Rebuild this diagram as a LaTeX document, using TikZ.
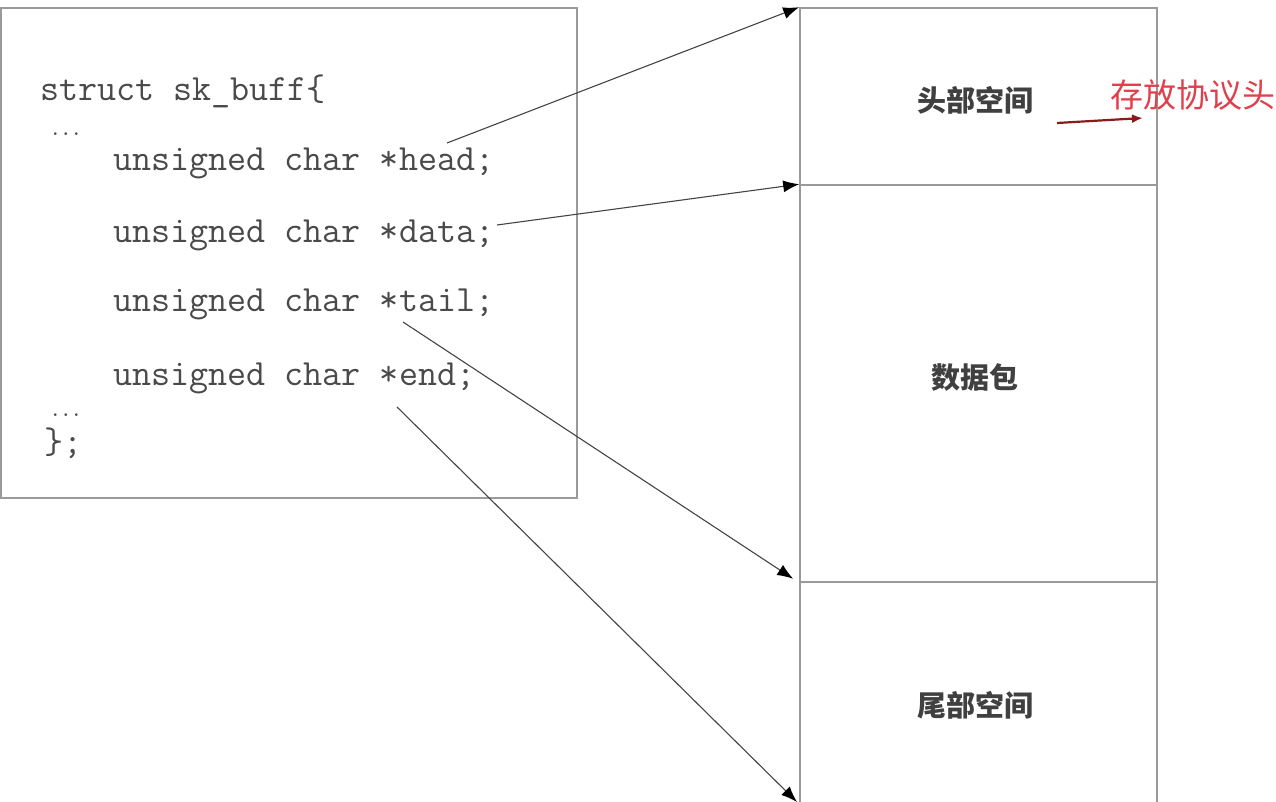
\documentclass[tikz,border=0pt]{standalone}
\usepackage{fontspec}
\newfontfamily\cjk{Noto Sans CJK SC}
\usetikzlibrary{arrows.meta}
\definecolor{codegray}{HTML}{4A4A4A}
\definecolor{boxgray}{HTML}{9A9A9A}
\definecolor{arrowgray}{HTML}{444444}
\definecolor{notered}{HTML}{E0404C}
\definecolor{darkred}{HTML}{8B1A1A}
\tikzset{
  codeline/.style={anchor=base west, inner sep=0pt, text=codegray, font=\ttfamily\fontsize{37}{39}\selectfont},
  dots/.style={anchor=base west, inner sep=0pt, text=codegray, font=\ttfamily\bfseries\fontsize{20}{22}\selectfont},
  boxpart/.style={draw=boxgray, line width=1.6pt, inner sep=0pt, rectangle},
  cnlabel/.style={inner sep=0pt, text=black!75, font=\cjk\bfseries\fontsize{29}{32}\selectfont},
  ptr/.style={draw=arrowgray, line width=1.1pt, -{Latex[length=16pt,width=12pt,color=black]}},
}
\begin{document}
\begin{tikzpicture}[x=1pt,y=-1pt]
\useasboundingbox (0,0) rectangle (1276,802);
% left struct box
\node[boxpart, minimum width=576pt, minimum height=490pt] (sbox) at (289,253) {};
\node[codeline] (l0) at (40,101) {struct sk\_buff\{};
\node[dots] (d1) at (50,136) {...};
\node[codeline] (l1) at (113,171) {unsigned char *head;};
\node[codeline] (l2) at (113,243) {unsigned char *data;};
\node[codeline] (l3) at (113,311) {unsigned char *tail;};
\node[codeline] (l4) at (113,385) {unsigned char *end;};
\node[dots] (d2) at (50,416) {...};
\node[codeline] (l5) at (44,453) {\};};
% right buffer
\node[boxpart, minimum width=357pt, minimum height=177pt] (hsp) at (978.5,96.5) {};
\node[boxpart, minimum width=357pt, minimum height=397pt] (dsp) at (978.5,383.5) {};
\node[boxpart, minimum width=357pt, minimum height=240pt] (tsp) at (978.5,702) {};
\node[cnlabel] (hl) at (975,100) {头部空间};
\node[cnlabel] (dl) at (975,377) {数据包};
\node[cnlabel] (tl) at (975,705) {尾部空间};
% red note
\node[anchor=west, inner sep=0pt, text=notered, font=\cjk\fontsize{33}{35}\selectfont] (note) at (1110,95) {存放协议头};
\coordinate (rs) at (1057,123);
\coordinate (re) at (1143,118);
\draw[draw=darkred, line width=2.2pt, -{Latex[length=11pt,width=9pt]}] (rs) -- (re);
% pointer arrows
\coordinate (ph) at (447,143);
\coordinate (pd) at (497,225);
\coordinate (pt) at (403,322);
\coordinate (pe) at (397,407);
\coordinate (te) at (797,802);
\draw[ptr] (ph) -- (hsp.north west);
\draw[ptr] (pd) -- (dsp.north west);
\draw[ptr] (pt) -- ([xshift=-6pt,yshift=4pt]dsp.south west);
\draw[ptr] (pe) -- (te);
\end{tikzpicture}
\end{document}
